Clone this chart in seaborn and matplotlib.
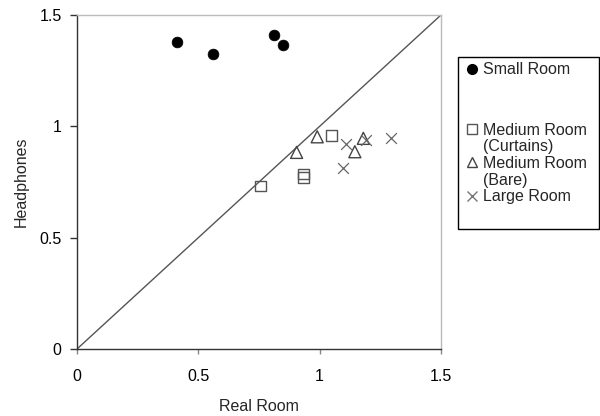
import matplotlib
matplotlib.use("Agg")
import matplotlib.pyplot as plt
import seaborn as sns
from matplotlib.lines import Line2D
from matplotlib.patches import Rectangle

sns.set_theme(style="white")
plt.rcParams['font.family'] = ['Liberation Sans', 'DejaVu Sans']

small_x = [0.412, 0.560, 0.812, 0.849]
small_y = [1.378, 1.325, 1.410, 1.365]
curt_x = [0.757, 1.049, 0.932, 0.932]
curt_y = [0.732, 0.958, 0.786, 0.770]
bare_x = [0.990, 0.905, 1.145, 1.180]
bare_y = [0.953, 0.883, 0.886, 0.946]
large_x = [1.108, 1.097, 1.191, 1.294]
large_y = [0.920, 0.814, 0.938, 0.949]
ticks = [0, 0.5, 1, 1.5]
tick_labels = ["0", "0.5", "1", "1.5"]

fig = plt.figure(figsize=(6, 4.16), dpi=100)
ax = fig.add_axes([0.1283, 0.161, 0.6067, 0.803])

ax.plot([0, 1.5], [0, 1.5], color="#555555", lw=1.0, zorder=1)

sns.scatterplot(x=small_x, y=small_y, ax=ax, marker="o", s=60, color="black",
                edgecolor="black", linewidth=0.5, zorder=3)
sns.scatterplot(x=curt_x, y=curt_y, ax=ax, marker="s", s=60, facecolor="none",
                edgecolor="#555555", linewidth=1.0, zorder=3)
sns.scatterplot(x=bare_x, y=bare_y, ax=ax, marker="^", s=75, facecolor="none",
                edgecolor="#444444", linewidth=1.0, zorder=3)
sns.scatterplot(x=large_x, y=large_y, ax=ax, marker="x", s=60, color="#666666",
                linewidth=0.9, zorder=3)

ax.set_xlim(0, 1.5)
ax.set_ylim(0, 1.5)
ax.set_xticks(ticks)
ax.set_xticklabels(tick_labels)
ax.set_yticks(ticks)
ax.set_yticklabels(tick_labels)
ax.tick_params(axis="x", direction="out", length=3.6, width=1, color="#888888",
               labelsize=11.5, labelcolor="black", bottom=True, pad=10.5)
ax.tick_params(axis="y", direction="out", length=5, width=1, color="#333333",
               labelsize=11.5, labelcolor="black", left=True, pad=6)
for s in ["top", "right"]:
    ax.spines[s].set_color("#bbbbbb")
    ax.spines[s].set_linewidth(1.0)
for s in ["left", "bottom"]:
    ax.spines[s].set_color("#333333")
    ax.spines[s].set_linewidth(1.0)
ax.set_xlabel("Real Room", fontsize=11.5, labelpad=11)
ax.set_ylabel("Headphones", fontsize=11.5, labelpad=8)

# legend frame
fig.patches.append(Rectangle((458 / 600, 1 - 229 / 416), 141 / 600, 172 / 416,
                             transform=fig.transFigure, facecolor="white",
                             edgecolor="black", linewidth=1.0, zorder=0))

blank = Line2D([], [], linestyle="none", marker=None)
h_small = Line2D([], [], linestyle="none", marker="o", color="black", markersize=7)
h_curt = Line2D([], [], linestyle="none", marker="s", markerfacecolor="white",
                markeredgecolor="#555555", markersize=7)
h_bare = Line2D([], [], linestyle="none", marker="^", markerfacecolor="white",
                markeredgecolor="#444444", markersize=7)
h_large = Line2D([], [], linestyle="none", marker="x", color="#777777", markersize=7)

common = dict(frameon=False, fontsize=11.5, handlelength=0.6, handletextpad=0.35,
              labelspacing=0.1, borderpad=0, borderaxespad=0)
leg1 = fig.legend([h_small], ["Small Room"], loc="center left",
                  bbox_to_anchor=(467.6 / 600, 1 - 70 / 416), **common)
leg2 = fig.legend([h_curt, blank, h_bare, blank, h_large],
                  ["Medium Room", "(Curtains)", "Medium Room", "(Bare)", "Large Room"],
                  loc="center left", bbox_to_anchor=(467.6 / 600, 1 - 163.5 / 416),
                  **common)

fig.savefig("out.png", dpi=100)
